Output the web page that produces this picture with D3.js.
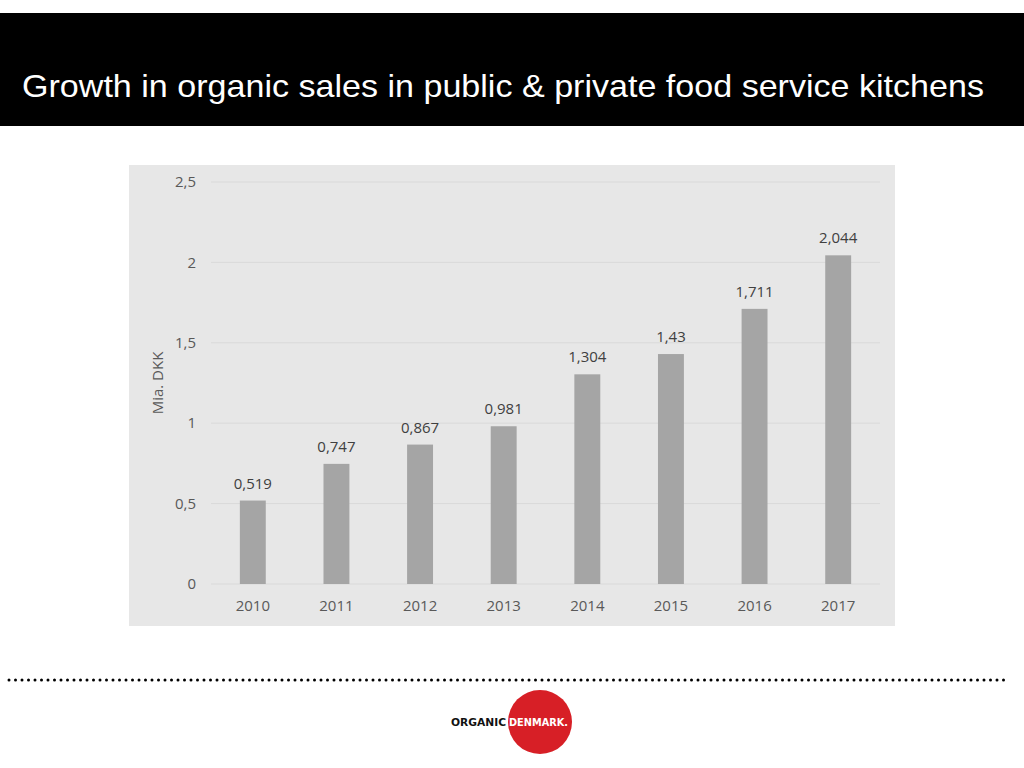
<!DOCTYPE html>
<html><head><meta charset="utf-8">
<script src="https://cdn.jsdelivr.net/npm/d3@7"></script>
<style>html,body{margin:0;padding:0;background:#fff;}</style>
</head><body>
<script>
const years = ["2010","2011","2012","2013","2014","2015","2016","2017"];
const values = [0.519,0.747,0.867,0.981,1.304,1.43,1.711,2.044];
const valueLabels = ["0,519","0,747","0,867","0,981","1,304","1,43","1,711","2,044"];
const yTicks = [0,0.5,1,1.5,2,2.5];
const yTickLabels = ["0","0,5","1","1,5","2","2,5"];
const title = "Growth in organic sales in public & private food service kitchens";
const yTitle = "Mia. DKK";

const svg = d3.select("body").append("svg").attr("width",1024).attr("height",768);
// header
svg.append("rect").attr("x",0).attr("y",13).attr("width",1024).attr("height",113).attr("fill","#000");
svg.append("text").attr("x",22).attr("y",97).attr("fill","#fff")
  .attr("font-family","Liberation Sans, Arial, sans-serif").attr("font-size",32)
  .attr("textLength",962).attr("lengthAdjust","spacingAndGlyphs").text(title);

// chart panel
svg.append("rect").attr("x",129).attr("y",165).attr("width",766).attr("height",461).attr("fill","#e7e7e7");

const font = "Open Sans, 'Noto Sans', sans-serif";
const x = d3.scaleBand().domain(years).range([211,880]).paddingInner(0.69).paddingOuter(0.345);
const y = d3.scaleLinear().domain([0,2.5]).range([584,182]);

const g = svg.append("g");
g.selectAll("line.grid").data(yTicks).join("line").attr("class","grid")
  .attr("x1",211).attr("x2",880).attr("y1",d=>y(d)).attr("y2",d=>y(d))
  .attr("stroke","#d9d9d9").attr("stroke-width",1);
g.selectAll("text.yt").data(yTicks).join("text").attr("class","yt")
  .attr("x",196).attr("y",d=>y(d)).attr("dy","0.35em").attr("text-anchor","end")
  .attr("font-family",font).attr("font-size",15).attr("fill","#595959")
  .text((d,i)=>yTickLabels[i]);

g.selectAll("rect.bar").data(values).join("rect").attr("class","bar")
  .attr("x",(d,i)=>x(years[i])).attr("width",x.bandwidth())
  .attr("y",d=>y(d)).attr("height",d=>y(0)-y(d)).attr("fill","#a5a5a5");

g.selectAll("text.vl").data(values).join("text").attr("class","vl")
  .attr("x",(d,i)=>x(years[i])+x.bandwidth()/2).attr("y",d=>y(d)-12)
  .attr("text-anchor","middle").attr("font-family",font).attr("font-size",15).attr("fill","#404040")
  .text((d,i)=>valueLabels[i]);

g.selectAll("text.xl").data(years).join("text").attr("class","xl")
  .attr("x",d=>x(d)+x.bandwidth()/2).attr("y",611)
  .attr("text-anchor","middle").attr("font-family",font).attr("font-size",15).attr("fill","#595959")
  .text(d=>d);

svg.append("text").attr("transform","translate(163,383) rotate(-90)").attr("text-anchor","middle")
  .attr("font-family",font).attr("font-size",15).attr("fill","#595959").text(yTitle);

// dotted line
svg.append("line").attr("x1",9).attr("x2",1008).attr("y1",680).attr("y2",680)
  .attr("stroke","#000").attr("stroke-width",3).attr("stroke-linecap","round")
  .attr("stroke-dasharray","0 6.5");

// logo
svg.append("circle").attr("cx",540).attr("cy",722).attr("r",32).attr("fill","#d71f26");
svg.append("text").attr("x",451).attr("y",726).attr("font-family","DejaVu Sans, sans-serif")
  .attr("font-weight","bold").attr("font-size",10.5).attr("fill","#111")
  .attr("textLength",55).attr("lengthAdjust","spacingAndGlyphs").text("ORGANIC");
svg.append("text").attr("x",509).attr("y",726).attr("font-family","DejaVu Sans, sans-serif")
  .attr("font-weight","bold").attr("font-size",10.5).attr("fill","#fff")
  .attr("textLength",59).attr("lengthAdjust","spacingAndGlyphs").text("DENMARK.");
</script>
</body></html>
